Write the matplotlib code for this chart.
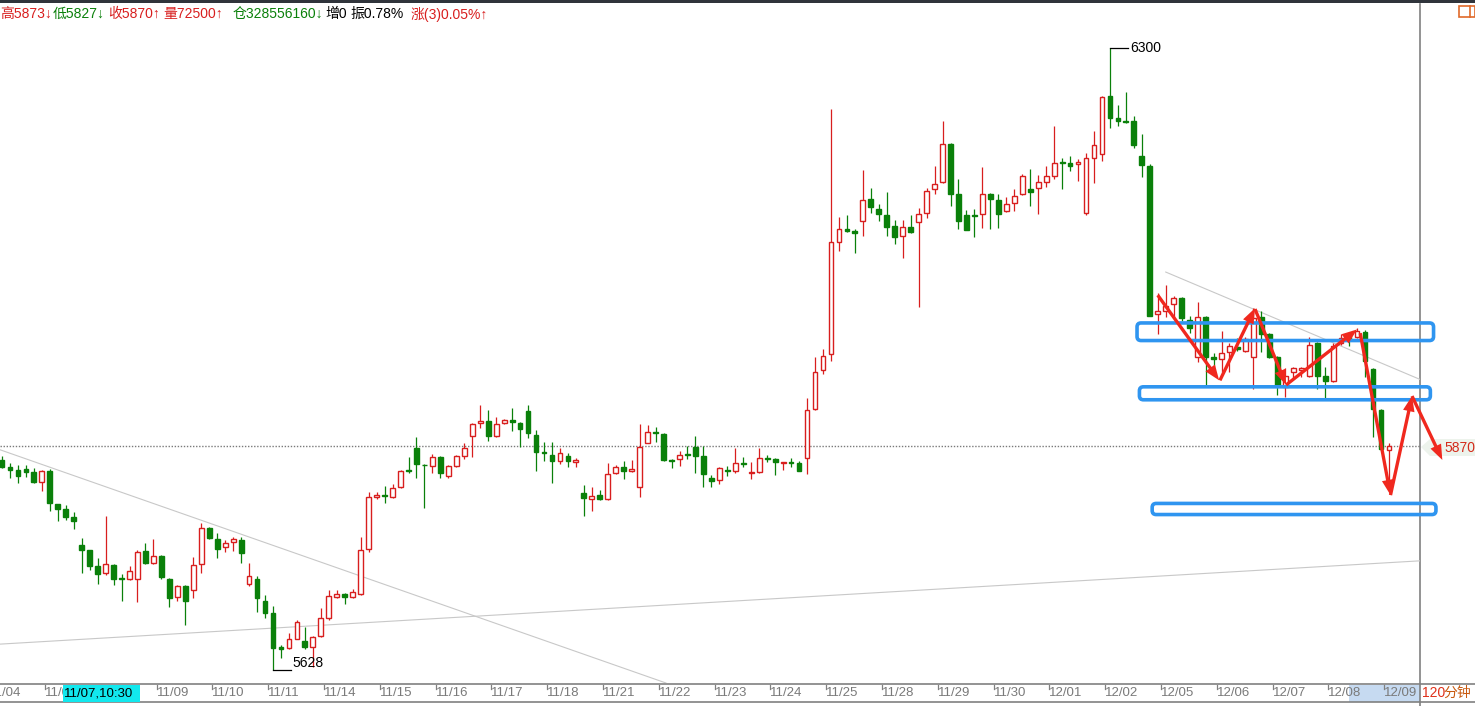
import matplotlib
matplotlib.use("Agg")
import matplotlib.pyplot as plt
from matplotlib.patches import Rectangle, FancyBboxPatch, FancyArrowPatch, Polygon
from matplotlib.transforms import blended_transform_factory

plt.rcParams['font.family'] = ['Liberation Sans', 'Noto Sans CJK SC', 'DejaVu Sans']

# 120-minute bars, 11/04 (partial) .. 12/09
opens = [5855, 5847, 5844, 5845, 5842, 5831, 5843, 5807, 5802, 5793,
         5763, 5758, 5740, 5733, 5742, 5727, 5726, 5726, 5757, 5744,
         5751, 5726, 5707, 5719, 5714, 5743, 5782, 5770, 5761, 5766,
         5768, 5721, 5726, 5703, 5690, 5653, 5652, 5662, 5659, 5653,
         5665, 5684, 5707, 5710, 5707, 5710, 5759, 5815, 5817, 5815,
         5826, 5844, 5868, 5850, 5848, 5858, 5838, 5848, 5859, 5881,
         5895, 5897, 5881, 5895, 5898, 5895, 5908, 5882, 5864, 5860,
         5854, 5859, 5853, 5819, 5813, 5817, 5813, 5841, 5847, 5843,
         5826, 5873, 5885, 5883, 5855, 5856, 5861, 5869, 5859, 5836,
         5833, 5844, 5843, 5852, 5841, 5842, 5857, 5856, 5852, 5853,
         5852, 5857, 5910, 5952, 5969, 6090, 6104, 6102, 6113, 6137,
         6126, 6120, 6108, 6097, 6107, 6112, 6122, 6148, 6155, 6196,
         6142, 6120, 6120, 6121, 6142, 6136, 6124, 6133, 6142, 6148,
         6149, 6155, 6162, 6177, 6176, 6175, 6122, 6181, 6186, 6248,
         6224, 6221, 6221, 6183, 6173, 6013, 6016, 6024, 6030, 6006,
         5966, 6009, 5966, 5964, 5972, 5977, 5973, 5966, 6009, 5991,
         5966, 5934, 5950, 5952, 5946, 5981, 5946, 5940, 5981, 5988,
         5988, 5993, 5953, 5909, 5866]
highs = [5859, 5852, 5850, 5850, 5846, 5844, 5845, 5807, 5806, 5799,
         5771, 5758, 5749, 5794, 5743, 5732, 5740, 5758, 5765, 5770,
         5752, 5727, 5720, 5720, 5750, 5787, 5783, 5776, 5768, 5772,
         5772, 5744, 5730, 5709, 5697, 5655, 5668, 5682, 5674, 5665,
         5695, 5714, 5715, 5711, 5716, 5772, 5820, 5820, 5827, 5829,
         5844, 5858, 5880, 5851, 5861, 5859, 5849, 5860, 5873, 5895,
         5914, 5909, 5901, 5899, 5911, 5896, 5914, 5887, 5874, 5874,
         5868, 5863, 5857, 5828, 5826, 5823, 5852, 5849, 5854, 5855,
         5894, 5893, 5891, 5884, 5856, 5865, 5870, 5881, 5870, 5839,
         5847, 5848, 5868, 5858, 5853, 5868, 5860, 5857, 5853, 5857,
         5854, 5922, 5966, 5975, 6234, 6118, 6120, 6104, 6168, 6149,
         6132, 6145, 6114, 6114, 6120, 6127, 6149, 6173, 6221, 6197,
         6159, 6125, 6126, 6172, 6143, 6142, 6139, 6148, 6164, 6169,
         6163, 6173, 6216, 6181, 6183, 6180, 6187, 6210, 6248, 6300,
         6239, 6253, 6227, 6207, 6175, 6035, 6044, 6032, 6031, 6011,
         6026, 6011, 5971, 5994, 5981, 5987, 5988, 6019, 6016, 5992,
         5967, 5954, 5955, 5955, 5988, 5982, 5955, 5981, 5991, 5990,
         5998, 5995, 5954, 5910, 5873]
lows = [5846, 5835, 5830, 5837, 5830, 5821, 5800, 5789, 5790, 5780,
        5733, 5736, 5721, 5731, 5720, 5703, 5725, 5702, 5743, 5743,
        5726, 5696, 5703, 5677, 5706, 5733, 5770, 5749, 5755, 5757,
        5744, 5719, 5691, 5684, 5628, 5641, 5651, 5661, 5651, 5631,
        5664, 5682, 5706, 5699, 5706, 5709, 5756, 5813, 5808, 5814,
        5825, 5841, 5835, 5803, 5841, 5836, 5836, 5847, 5856, 5858,
        5890, 5875, 5880, 5894, 5886, 5869, 5879, 5843, 5854, 5830,
        5851, 5847, 5847, 5794, 5800, 5812, 5812, 5840, 5834, 5842,
        5815, 5873, 5874, 5854, 5846, 5848, 5856, 5841, 5826, 5826,
        5829, 5838, 5841, 5847, 5834, 5841, 5853, 5839, 5844, 5847,
        5843, 5840, 5909, 5948, 5962, 6081, 6101, 6079, 6097, 6122,
        6113, 6097, 6088, 6073, 6100, 6020, 6116, 6142, 6154, 6129,
        6105, 6103, 6096, 6106, 6104, 6106, 6123, 6124, 6141, 6129,
        6121, 6150, 6159, 6148, 6167, 6156, 6120, 6154, 6178, 6214,
        6216, 6219, 6192, 6161, 6010, 5991, 6009, 6009, 6005, 5992,
        5961, 5934, 5951, 5950, 5950, 5973, 5972, 5932, 5972, 5965,
        5925, 5923, 5944, 5945, 5945, 5932, 5922, 5939, 5979, 5978,
        5987, 5945, 5880, 5866, 5827]
closes = [5847, 5844, 5838, 5842, 5831, 5843, 5809, 5802, 5793, 5789,
          5758, 5740, 5732, 5743, 5726, 5726, 5735, 5756, 5744, 5751,
          5729, 5706, 5719, 5703, 5742, 5782, 5771, 5759, 5765, 5770,
          5754, 5730, 5706, 5690, 5652, 5651, 5662, 5680, 5653, 5664,
          5684, 5708, 5710, 5707, 5712, 5758, 5815, 5817, 5816, 5825,
          5843, 5843, 5851, 5849, 5858, 5841, 5848, 5859, 5868, 5894,
          5897, 5881, 5894, 5898, 5896, 5888, 5884, 5864, 5862, 5854,
          5862, 5854, 5855, 5814, 5816, 5813, 5840, 5847, 5843, 5845,
          5869, 5885, 5884, 5855, 5854, 5860, 5860, 5859, 5840, 5832,
          5846, 5843, 5852, 5851, 5842, 5857, 5856, 5853, 5853, 5852,
          5843, 5909, 5950, 5967, 6090, 6105, 6102, 6100, 6136, 6128,
          6121, 6107, 6096, 6107, 6101, 6121, 6146, 6153, 6196, 6142,
          6113, 6103, 6119, 6142, 6137, 6121, 6132, 6140, 6162, 6145,
          6155, 6162, 6176, 6176, 6173, 6177, 6181, 6195, 6247, 6224,
          6221, 6220, 6195, 6174, 6011, 6016, 6021, 6030, 6008, 5998,
          6009, 5966, 5964, 5971, 5978, 5975, 5986, 6008, 5991, 5966,
          5935, 5946, 5954, 5954, 5979, 5946, 5940, 5978, 5987, 5986,
          5994, 5962, 5910, 5867, 5870]

day_labels = ["11/04", "11/07", "11/08", "11/09", "11/10", "11/11", "11/14", "11/15",
              "11/16", "11/17", "11/18", "11/21", "11/22", "11/23", "11/24", "11/25",
              "11/28", "11/29", "11/30", "12/01", "12/02", "12/05", "12/06", "12/07",
              "12/08", "12/09"]
bars_per_day = 7
first_full_day_start = 6
cursor_label = "11/07,10:30"

last_price = 5870
high_mark, high_idx = 6300, 139
low_mark, low_idx = 5628, 34

# hand-drawn annotations (bar index, price)
trend_lines = [((-0.25, 5866), (83.3, 5614)),
               ((-0.25, 5656), (177.9, 5746)),
               ((146.0, 6058), (177.9, 5942))]
zones = [(142.4, 179.6, 5984, 6003),
         (142.7, 179.2, 5920, 5934),
         (144.3, 179.9, 5796, 5808)]
arrows = [((145.0, 6033), (152.7, 5941)),
          ((152.8, 5941), (157.2, 6019)),
          ((157.2, 6018), (161.1, 5936)),
          ((161.1, 5936), (170.0, 5996)),
          ((170.4, 5992), (174.2, 5817)),
          ((174.2, 5817), (176.9, 5924)),
          ((176.9, 5924), (180.7, 5855))]

RED = "#d81e1e"
GREEN = "#0a800a"
GRAY = "#808080"
W, H = 1475, 706

fig = plt.figure(figsize=(W / 100, H / 100), dpi=100)
fig.patch.set_facecolor("white")

# decoration layer in pixel coordinates (drawn under the price axes)
deco = fig.add_axes([0, 0, 1, 1])
deco.set_xlim(0, W)
deco.set_ylim(H, 0)
deco.axis("off")
deco.set_zorder(1)

ax = fig.add_axes([0, 23 / H, 1420 / W, 679 / H])
ax.set_xlim(-0.25, 177.9)
ax.set_ylim(5614, 6347.6)
ax.axis("off")
ax.set_zorder(2)

bw = 0.6
for i, (o, h, l, c) in enumerate(zip(opens, highs, lows, closes)):
    up = c >= o
    col = RED if up else GREEN
    ax.plot([i, i], [l, h], color=col, lw=0.9, zorder=2, solid_capstyle="butt")
    lo, hi = min(o, c), max(o, c)
    ax.add_patch(Rectangle((i - bw / 2, lo), bw, max(hi - lo, 0.3),
                           facecolor="white" if up else GREEN, edgecolor=col,
                           lw=1.0, zorder=3))

for (x0, y0), (x1, y1) in trend_lines:
    ax.plot([x0, x1], [y0, y1], color="#c8c8c8", lw=0.8, zorder=1)

ax.axhline(last_price, color="#7a7a7a", lw=1.0, ls=(0, (1, 1.2)), zorder=1)

# high / low markers
ax.plot([high_idx, high_idx + 2.3], [high_mark, high_mark], color="black", lw=0.9, zorder=4)
ax.text(high_idx + 2.6, high_mark, str(high_mark), fontsize=10, va="center", ha="left")
ax.plot([low_idx, low_idx + 2.2], [low_mark, low_mark], color="black", lw=0.9, zorder=4)
ax.text(low_idx + 2.4, low_mark + 8, str(low_mark), fontsize=10, va="center", ha="left")

for x0, x1, y0, y1 in zones:
    ax.add_patch(FancyBboxPatch((x0, y0), x1 - x0, y1 - y0,
                                boxstyle="round,pad=0,rounding_size=0.5",
                                mutation_aspect=8.6, facecolor="none",
                                edgecolor="#2f95f0", lw=2.6, zorder=5, clip_on=False))

for (xa, ya), (xb, yb) in arrows:
    ax.add_patch(FancyArrowPatch((xa, ya), (xb, yb),
                                 arrowstyle="simple,head_length=0.55,head_width=0.42,tail_width=0.12",
                                 mutation_scale=20, color="#f0281e", lw=0,
                                 shrinkA=0, shrinkB=0, zorder=6, clip_on=False))

deco.add_patch(Rectangle((0, 0), W, 3, facecolor="#30343b", lw=0))
deco.plot([1420, 1420], [4, H], color=GRAY, lw=1.2)
deco.plot([0, W], [683.5, 683.5], color=GRAY, lw=1.2)
deco.plot([0, W], [702, 702], color=GRAY, lw=1.2)

# highlight of the last two days on the time axis
deco.add_patch(Rectangle((1349, 684.5), 71, 17, facecolor="#c6daf1", lw=0, zorder=0))

tx = blended_transform_factory(ax.transData, deco.transData)
cursor_box = Rectangle((63, 684.5), 77, 17, facecolor="#12e8ee", lw=0, zorder=5)
for j, lab in enumerate(day_labels):
    pos = first_full_day_start + (j - 1) * bars_per_day - 0.6
    deco.plot([pos, pos], [684.5, 689], color=GRAY, lw=0.9, transform=tx)
    if lab == "11/08":
        continue  # fully covered by the cursor label
    t = deco.text(pos, 693, lab, transform=tx, fontsize=9.5, color="#7a7a7a",
                  ha="left", va="center")
    if lab == "11/07":
        t.set_clip_path(Rectangle((0, 684), 63, 18, transform=deco.transData))
deco.add_patch(cursor_box)
deco.text(64, 693, cursor_label, fontsize=9.5, color="black", ha="left", va="center", zorder=6)

deco.text(1422, 693, "120", fontsize=10, color="#e0301a", ha="left", va="center")
deco.text(1443, 693, "分钟", fontsize=10, color="#c85a10", ha="left", va="center")

# last price tag
deco.add_patch(Polygon([(1421, 447), (1430, 439), (1475, 439), (1475, 456), (1430, 456)],
                       closed=True, facecolor="#edf3ec", lw=0))
deco.text(1444, 447.5, str(last_price), fontsize=10, color="#d42a1a", ha="left", va="center")

# top-right small box
deco.add_patch(Rectangle((1459, 6), 16, 11, facecolor="none", edgecolor="#e06a2a", lw=1.2))
deco.plot([1470, 1470], [6, 17], color="#e06a2a", lw=1.2)

header = [(0, "高5873↓", RED), (53, "低5827↓", GREEN), (108, "收5870↑", RED),
          (163, "量72500↑", RED), (233, "仓328556160↓", GREEN), (325, "增0", "black"),
          (350, "振0.78%", "black"), (411, "涨(3)0.05%↑", RED)]
for x, s, col in header:
    deco.text(x, 14, s, fontsize=10, color=col, ha="left", va="center")

fig.savefig("out.png", dpi=100, facecolor="white")
